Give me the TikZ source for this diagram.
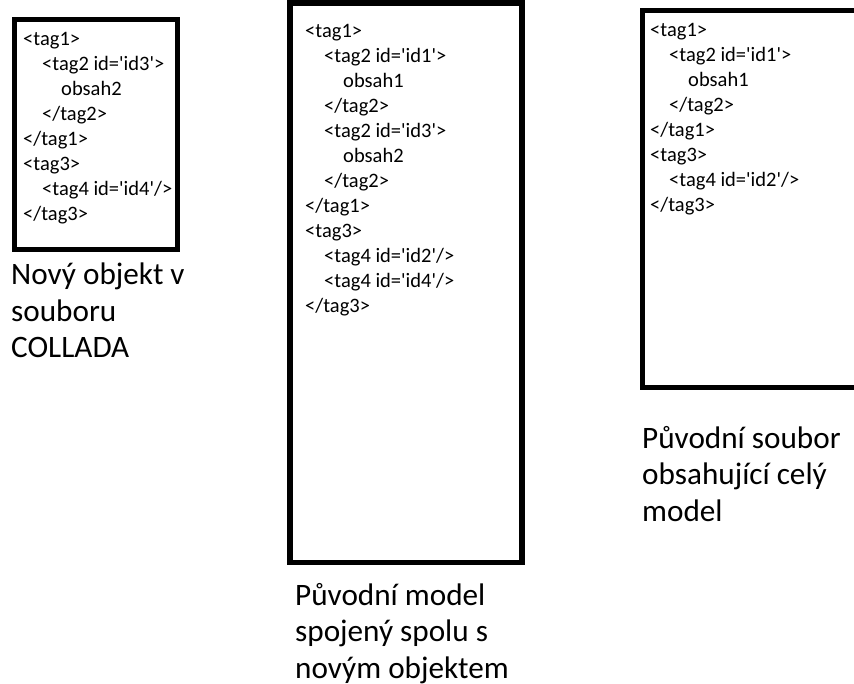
\documentclass[tikz,border=0pt]{standalone}
\usepackage{fontspec}
\setmainfont{Carlito}
\newcommand{\sq}{\textquotesingle}
\newcommand{\tl}{\textless}
\newcommand{\tg}{\textgreater}
\newcommand{\ind}{\hspace*{19pt}}
\tikzset{
  frame/.style={line width=5.5pt, draw=black},
  code/.style={anchor=base west, inner sep=0pt, font=\fontsize{20.5}{25}\selectfont},
  caption/.style={anchor=base west, inner sep=0pt, font=\fontsize{31.2}{36.5}\selectfont},
}
\begin{document}
\begin{tikzpicture}[x=1pt,y=-1pt]
\useasboundingbox (0,0) rectangle (854,684);
\clip (0,0) rectangle (854,684);
% frames
\draw[frame] (14.5,19.5) rectangle (177.5,249.5);
\draw[frame] (290,3) rectangle (522,562.5);
\draw[frame] (642.5,10.5) rectangle (880,387.5);
% code texts
\node[code] (code1) at (23,46) {\begin{tabular}[t]{@{}l@{}}
\tl tag1\tg\\
\ind\tl tag2 id=\sq id3\sq\tg\\
\ind\ind obsah2\\
\ind\tl/tag2\tg\\
\tl/tag1\tg\\
\tl tag3\tg\\
\ind\tl tag4 id=\sq id4\sq/\tg\\
\tl/tag3\tg
\end{tabular}};
\node[code] (code2) at (305,38) {\begin{tabular}[t]{@{}l@{}}
\tl tag1\tg\\
\ind\tl tag2 id=\sq id1\sq\tg\\
\ind\ind obsah1\\
\ind\tl/tag2\tg\\
\ind\tl tag2 id=\sq id3\sq\tg\\
\ind\ind obsah2\\
\ind\tl/tag2\tg\\
\tl/tag1\tg\\
\tl tag3\tg\\
\ind\tl tag4 id=\sq id2\sq/\tg\\
\ind\tl tag4 id=\sq id4\sq/\tg\\
\tl/tag3\tg
\end{tabular}};
\node[code] (code3) at (650,37) {\begin{tabular}[t]{@{}l@{}}
\tl tag1\tg\\
\ind\tl tag2 id=\sq id1\sq\tg\\
\ind\ind obsah1\\
\ind\tl/tag2\tg\\
\tl/tag1\tg\\
\tl tag3\tg\\
\ind\tl tag4 id=\sq id2\sq/\tg\\
\tl/tag3\tg
\end{tabular}};
% captions
\node[caption] (cap1) at (11,285) {\begin{tabular}[t]{@{}l@{}}
Nový objekt v\\ souboru\\ COLLADA
\end{tabular}};
\node[caption] (cap2) at (295,605) {\begin{tabular}[t]{@{}l@{}}
Původní model\\ spojený spolu s\\ novým objektem
\end{tabular}};
\node[caption] (cap3) at (642,448) {\begin{tabular}[t]{@{}l@{}}
Původní soubor\\ obsahující celý\\ model
\end{tabular}};
\end{tikzpicture}
\end{document}
